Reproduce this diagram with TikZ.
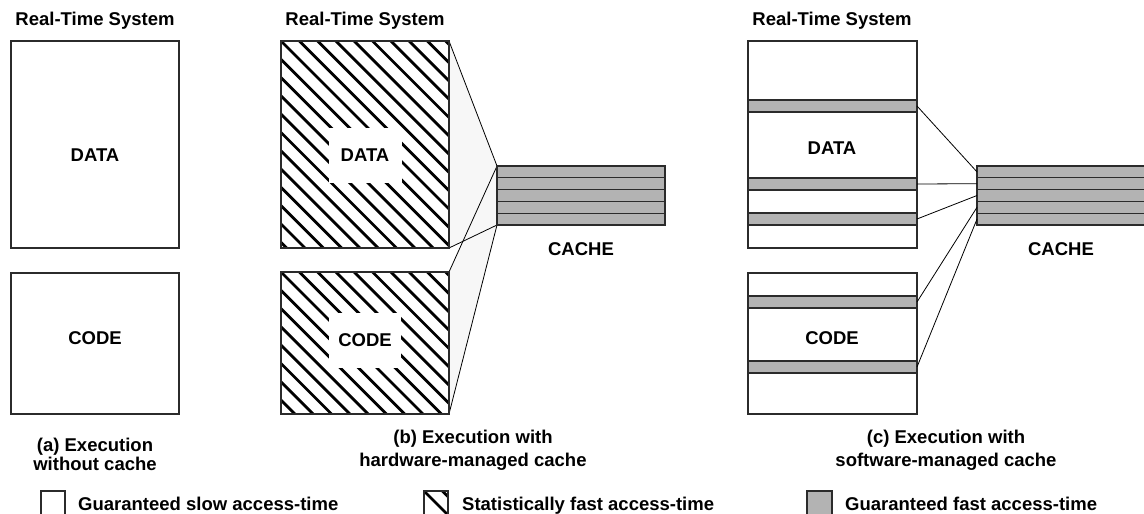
\documentclass[tikz,border=0pt]{standalone}
\usepackage{fontspec}
\setmainfont{Liberation Sans}
\usetikzlibrary{calc}
\definecolor{edge}{HTML}{2B2B2B}
\definecolor{fastgray}{HTML}{B3B3B3}
\definecolor{fanfill}{HTML}{F7F7F7}
\tikzset{
  mem/.style={draw=edge, line width=1.3pt, fill=white, inner sep=0pt, outer sep=0pt, anchor=north west},
  fast/.style={draw=edge, line width=1.3pt, fill=fastgray, inner sep=0pt, outer sep=0pt, anchor=north west},
  frame/.style={draw=edge, line width=1.3pt},
  lbl/.style={font=\bfseries\fontsize{18.5}{22}\selectfont, inner sep=0pt},
  link/.style={draw=black, line width=0.8pt},
  hatchline/.style={line width=2.8pt, black},
  rowline/.style={draw=edge, line width=1.1pt},
}
\begin{document}
\begin{tikzpicture}[x=1pt,y=-1pt]
\useasboundingbox[fill=white] (0,0) rectangle (1144,514);

% ---------- (a) execution without cache ----------
\node[lbl, anchor=base] (aT) at (95,25) {Real-Time System};
\node[mem, minimum width=168, minimum height=207] (aD) at (11,41) {};
\node[mem, minimum width=168, minimum height=141] (aC) at (11,273) {};
\node[lbl] (aDl) at (95,155) {DATA};
\node[lbl] (aCl) at (95,338) {CODE};
\node[lbl, anchor=base] (aCap1) at (95,451) {(a) Execution};
\node[lbl, anchor=base] (aCap2) at (95,470) {without cache};

% ---------- (b) hardware-managed cache ----------
\node[lbl, anchor=base] (bT) at (365,25) {Real-Time System};
\node[mem, minimum width=168, minimum height=207] (bD) at (281,41) {};
\node[mem, minimum width=168, minimum height=142] (bC) at (281,272) {};
\node[fast, minimum width=168, minimum height=59] (bK) at (497,166) {};

% fans from the memory regions onto the cache
\fill[fanfill] (bD.north east) -- (bK.north west) -- (bK.south west) -- (bD.south east) -- cycle;
\fill[fanfill] (bC.north east) -- (bK.north west) -- (bK.south west) -- (bC.south east) -- cycle;
\draw[link] (bD.north east) -- (bK.north west);
\draw[link] (bD.south east) -- (bK.south west);
\draw[link] (bC.north east) -- (bK.north west);
\draw[link] (bC.south east) -- (bK.south west);

% hatched memory regions
\foreach \reg/\ty in {bD/41,bC/272}{
  \begin{scope}
    \clip (\reg.north west) rectangle (\reg.south east);
    \foreach \k in {-12,...,10}
      \draw[hatchline] ({281+\k*18.3-6},{\ty-6}) -- ++(240,240);
  \end{scope}
  \draw[frame] (\reg.north west) rectangle (\reg.south east);
}
\node[lbl, fill=white, minimum width=73, minimum height=55] (bDl) at (365,155) {DATA};
\node[lbl, fill=white, minimum width=72, minimum height=55] (bCl) at (365,340) {CODE};

% cache lines
\draw[fast] (bK.north west) rectangle (bK.south east);
\foreach \f in {0.2,0.4,0.6,0.8}
  \draw[rowline] ($(bK.north west)!\f!(bK.south west)$) -- ($(bK.north east)!\f!(bK.south east)$);
\node[lbl, anchor=base] (bKl) at (581,255) {CACHE};

\node[lbl, anchor=base] (bCap1) at (473,443) {(b) Execution with};
\node[lbl, anchor=base] (bCap2) at (473,466) {hardware-managed cache};

% ---------- (c) software-managed cache ----------
\node[lbl, anchor=base] (cT) at (832,25) {Real-Time System};
\node[mem, minimum width=169, minimum height=207] (cD) at (748,41) {};
\node[mem, minimum width=169, minimum height=141] (cC) at (748,273) {};
\node[fast, minimum width=169, minimum height=12] (cD1) at (748,100) {};
\node[fast, minimum width=169, minimum height=12] (cD2) at (748,178) {};
\node[fast, minimum width=169, minimum height=12] (cD3) at (748,213) {};
\node[fast, minimum width=169, minimum height=12] (cC1) at (748,296) {};
\node[fast, minimum width=169, minimum height=12] (cC2) at (748,361) {};
\node[lbl] (cDl) at (832,148) {DATA};
\node[lbl] (cCl) at (832,338) {CODE};

\node[fast, minimum width=168, minimum height=59] (cK) at (977,166) {};
\foreach \f in {0.2,0.4,0.6,0.8}
  \draw[rowline] ($(cK.north west)!\f!(cK.south west)$) -- ($(cK.north east)!\f!(cK.south east)$);
\foreach \i/\f in {1/0.1,2/0.3,3/0.5,4/0.7,5/0.9}
  \coordinate (cKr\i) at ($(cK.north west)!\f!(cK.south west)$);
\draw[link] (cD1.east) -- (cKr1);
\draw[link] (cD2.east) -- (cKr2);
\draw[link] (cD3.east) -- (cKr3);
\draw[link] (cC1.east) -- (cKr4);
\draw[link] (cC2.east) -- (cKr5);
\node[lbl, anchor=base] (cKl) at (1061,255) {CACHE};

\node[lbl, anchor=base] (cCap1) at (946,443) {(c) Execution with};
\node[lbl, anchor=base] (cCap2) at (946,466) {software-managed cache};

% ---------- legend ----------
\node[mem, minimum width=24, minimum height=30] (legA) at (41,491) {};
\node[lbl, anchor=base west] (legAt) at (78,510) {Guaranteed slow access-time};

\node[mem, minimum width=24, minimum height=30] (legB) at (424,491) {};
\begin{scope}
  \clip (legB.north west) rectangle (legB.south east);
  \draw[hatchline] (422,489) -- ++(40,40);
  \draw[hatchline] (440.3,489) -- ++(40,40);
\end{scope}
\draw[frame] (legB.north west) rectangle (legB.south east);
\node[lbl, anchor=base west] (legBt) at (462,510) {Statistically fast access-time};

\node[fast, minimum width=25, minimum height=30] (legC) at (807,491) {};
\node[lbl, anchor=base west] (legCt) at (845,510) {Guaranteed fast access-time};
\end{tikzpicture}
\end{document}
